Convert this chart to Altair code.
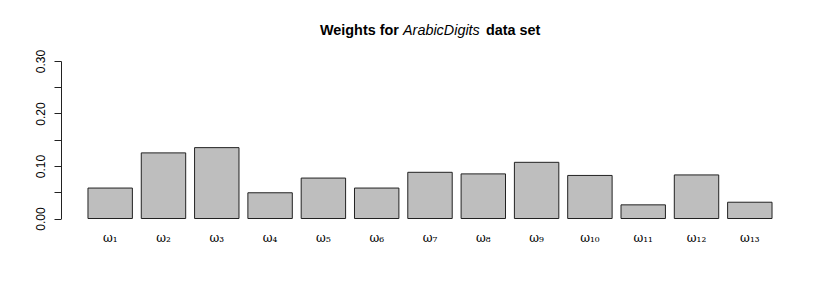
import altair as alt
import pandas as pd

labels = ["ω₁", "ω₂", "ω₃", "ω₄", "ω₅", "ω₆", "ω₇", "ω₈", "ω₉", "ω₁₀", "ω₁₁", "ω₁₂", "ω₁₃"]
weights = [0.058, 0.125, 0.135, 0.049, 0.077, 0.058, 0.088, 0.085, 0.107, 0.082, 0.026, 0.083, 0.031]

title_parts = ["Weights for", "ArabicDigits", "data set"]
title_styles = ["normal", "italic", "normal"]
title_weights = ["bold", "normal", "bold"]

df = pd.DataFrame({"label": labels, "weight": weights})

bars = alt.Chart(df).mark_bar(fill="#BEBEBE", stroke="#222222", strokeWidth=1).encode(
    x=alt.X("label:N", sort=labels,
            scale=alt.Scale(paddingInner=0.1667, paddingOuter=0.506),
            axis=alt.Axis(title=None, domain=False, ticks=False, labelAngle=0,
                          labelFont="DejaVu Serif", labelFontSize=12, labelColor="black",
                          labelBaseline="alphabetic", labelPadding=23)),
    y=alt.Y("weight:Q", scale=alt.Scale(domain=[0, 0.3], nice=False, zero=True),
            axis=alt.Axis(title=None, values=[0, 0.05, 0.1, 0.15, 0.2, 0.25, 0.3],
                          labelExpr="round(datum.value*100) % 10 == 0 ? format(datum.value, '.2f') : ''",
                          labelAngle=-90, labelAlign="center", labelBaseline="alphabetic",
                          labelPadding=10, tickSize=7, tickColor="#222222", domainColor="#222222",
                          labelFont="Liberation Sans", labelFontSize=12, labelColor="black",
                          grid=False)),
)

title_x = [259, 342, 425]
layers = [bars]
for part, st, wt, xp in zip(title_parts, title_styles, title_weights, title_x):
    t = alt.Chart(pd.DataFrame({"t": [part]})).mark_text(
        align="left", baseline="alphabetic", font="Liberation Sans", fontSize=14.4,
        fontStyle=st, fontWeight=wt, color="black"
    ).encode(text="t:N", x=alt.value(xp), y=alt.value(-26))
    layers.append(t)

chart = alt.layer(*layers).properties(
    width=738, height=157.5,
    autosize=alt.AutoSizeParams(type="none"),
    padding={"left": 53, "top": 53, "right": 20, "bottom": 50},
    background="white",
).configure_view(stroke=None)

chart.save("out.html", embed_options={"renderer": "svg", "actions": False})
